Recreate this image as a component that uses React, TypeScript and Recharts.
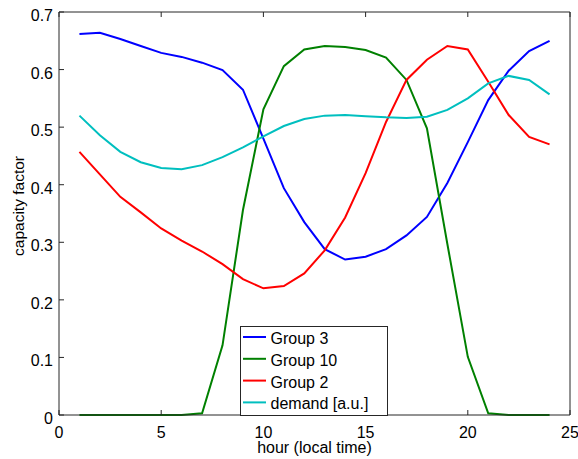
import * as React from 'react';
import { LineChart, Line, XAxis, YAxis, Legend } from 'recharts';

const hours = [1, 2, 3, 4, 5, 6, 7, 8, 9, 10, 11, 12, 13, 14, 15, 16, 17, 18, 19, 20, 21, 22, 23, 24];
const group3 = [0.662, 0.664, 0.653, 0.641, 0.629, 0.622, 0.612, 0.599, 0.565, 0.48, 0.394, 0.335, 0.288, 0.27, 0.275, 0.288, 0.312, 0.344, 0.403, 0.474, 0.547, 0.598, 0.632, 0.65];
const group10 = [0, 0, 0, 0, 0, 0, 0.003, 0.121, 0.356, 0.531, 0.606, 0.635, 0.641, 0.639, 0.634, 0.621, 0.582, 0.498, 0.297, 0.101, 0.003, 0, 0, 0];
const group2 = [0.457, 0.418, 0.379, 0.352, 0.324, 0.303, 0.284, 0.262, 0.236, 0.22, 0.224, 0.246, 0.286, 0.343, 0.42, 0.509, 0.582, 0.617, 0.641, 0.635, 0.579, 0.521, 0.483, 0.47];
const demand = [0.52, 0.486, 0.457, 0.439, 0.429, 0.427, 0.434, 0.448, 0.465, 0.484, 0.502, 0.514, 0.52, 0.521, 0.519, 0.517, 0.516, 0.518, 0.53, 0.55, 0.576, 0.589, 0.582, 0.557];

const seriesNames = ['Group 3', 'Group 10', 'Group 2', 'demand [a.u.]'];
const xTicks = [0, 5, 10, 15, 20, 25];
const yTicks = [0, 0.1, 0.2, 0.3, 0.4, 0.5, 0.6, 0.7];

const data = hours.map((h, i) => ({
    hour: h,
    g3: group3[i],
    g10: group10[i],
    g2: group2[i],
    dem: demand[i],
}));

const axisColor = '#262626';
const font = '"Liberation Sans", Arial, sans-serif';
const TICK = 5;

// ticks point into the plot, matlab style
const BottomTick = ({ x, y, payload }: any) => (
    <g>
        <line x1={x} y1={y} x2={x} y2={y - TICK} stroke={axisColor} />
        <text x={x} y={y + 23} textAnchor="middle" fontSize={16} fontFamily={font} fill="#000">{payload.value}</text>
    </g>
);
const LeftTick = ({ x, y, payload }: any) => (
    <g>
        <line x1={x} y1={y} x2={x + TICK} y2={y} stroke={axisColor} />
        <text x={x - 6} y={y + 9} textAnchor="end" fontSize={16} fontFamily={font} fill="#000">{payload.value}</text>
    </g>
);
const TopTick = ({ x, y }: any) => <line x1={x} y1={y} x2={x} y2={y + TICK} stroke={axisColor} />;
const RightTick = ({ x, y }: any) => <line x1={x} y1={y} x2={x - TICK} y2={y} stroke={axisColor} />;

const LegendBox = ({ payload }: any) => {
    const items = [...(payload || [])].sort((a: any, b: any) => seriesNames.indexOf(a.value) - seriesNames.indexOf(b.value));
    return (
        <svg width={148} height={90} style={{ display: 'block' }}>
            <rect x={0.5} y={0.5} width={147} height={89} fill="#fff" stroke={axisColor} />
            {items.map((p: any, i: number) => {
                const cy = 11 + i * 21.8;
                return (
                    <g key={p.value}>
                        <line x1={3} y1={cy} x2={26} y2={cy} stroke={p.color} strokeWidth={2} />
                        <text x={30.5} y={cy + 7} fontSize={16} fontFamily={font} fill="#000">{p.value}</text>
                    </g>
                );
            })}
        </svg>
    );
};

export default function App() {
    return (
        <div style={{ position: 'absolute', left: 0, top: 0, background: '#fff' }}>
            <LineChart width={578} height={459} data={data} margin={{ top: 11, right: 7, left: 0, bottom: 0 }}>
                <XAxis
                    dataKey="hour"
                    type="number"
                    domain={[0, 25]}
                    ticks={xTicks}
                    height={44}
                    tickSize={0}
                    tickMargin={0}
                    tickLine={false}
                    stroke={axisColor}
                    tick={<BottomTick />}
                    label={{
                        content: () => (
                            <text x={314.5} y={453} textAnchor="middle" fontSize={16} fontFamily={font} fill="#000">hour (local time)</text>
                        ),
                    }}
                />
                <XAxis xAxisId="top" orientation="top" dataKey="hour" type="number" domain={[0, 25]} ticks={xTicks} height={1} tickSize={0} tickMargin={0} tickLine={false} stroke={axisColor} tick={<TopTick />} />
                <YAxis
                    type="number"
                    domain={[0, 0.7]}
                    ticks={yTicks}
                    width={59}
                    tickSize={0}
                    tickMargin={0}
                    tickLine={false}
                    stroke={axisColor}
                    tick={<LeftTick />}
                    label={{
                        content: () => (
                            <text x={24} y={206} transform="rotate(-90, 24, 206)" textAnchor="middle" fontSize={15.5} fontFamily={font} fill="#000">capacity factor</text>
                        ),
                    }}
                />
                <YAxis yAxisId="right" orientation="right" type="number" domain={[0, 0.7]} ticks={yTicks} width={1} tickSize={0} tickMargin={0} tickLine={false} stroke={axisColor} tick={<RightTick />} />
                <Legend
                    layout="vertical"
                    align="center"
                    verticalAlign="middle"
                    content={<LegendBox />}
                    wrapperStyle={{ left: 240, top: 326, width: 148, height: 90, right: 'auto', bottom: 'auto' }}
                />
                <Line type="linear" dataKey="g3" name={seriesNames[0]} stroke="#0000FF" strokeWidth={2} dot={false} isAnimationActive={false} />
                <Line type="linear" dataKey="g10" name={seriesNames[1]} stroke="#008000" strokeWidth={2} dot={false} isAnimationActive={false} />
                <Line type="linear" dataKey="g2" name={seriesNames[2]} stroke="#FF0000" strokeWidth={2} dot={false} isAnimationActive={false} />
                <Line type="linear" dataKey="dem" name={seriesNames[3]} stroke="#00BFBF" strokeWidth={2} dot={false} isAnimationActive={false} />
            </LineChart>
        </div>
    );
}
